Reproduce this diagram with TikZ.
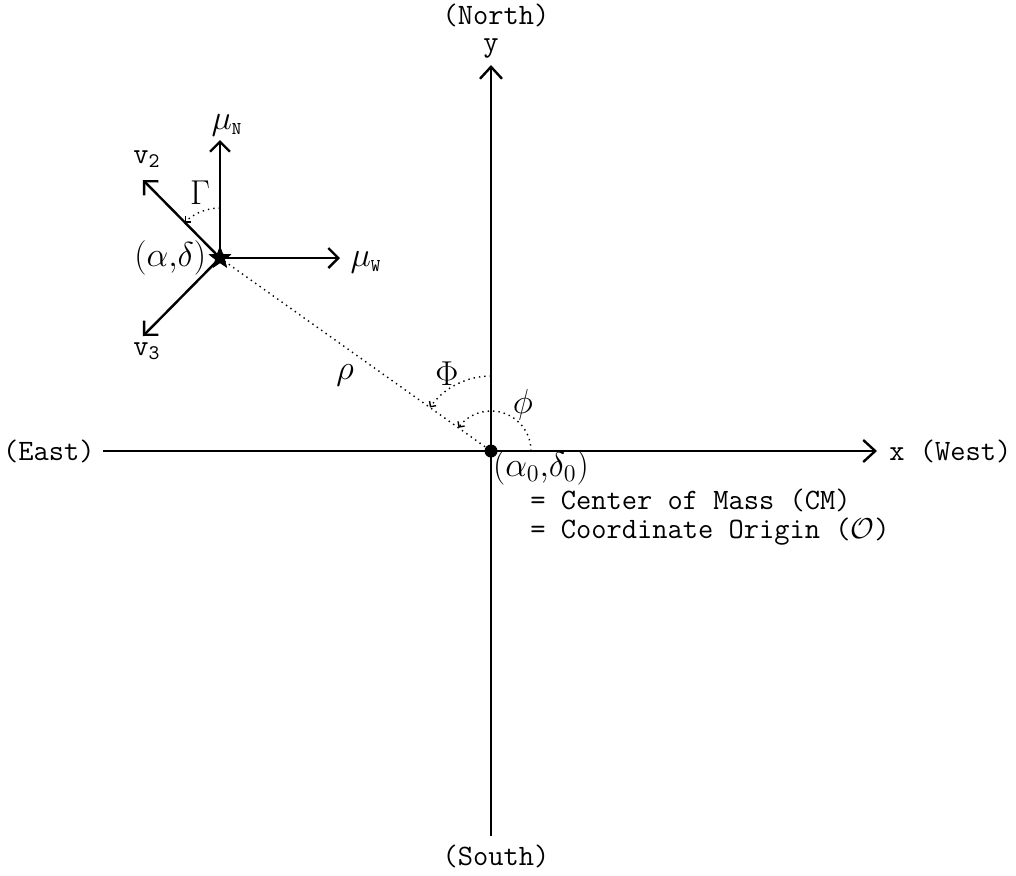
\documentclass[tikz,border=0pt]{standalone}
\usepackage{tikz}
\usetikzlibrary{arrows.meta,positioning,shapes.geometric}
\usepackage{amsmath,amssymb}
\tikzset{
  lbl/.style={font=\ttfamily\fontsize{14.8}{17}\selectfont, inner sep=1pt},
  mlbl/.style={font=\fontsize{17}{20}\selectfont, inner sep=1pt},
  arr/.style={-{Straight Barb[length=5pt,width=10pt]}, line width=1.2pt},
  axis/.style={-{Straight Barb[length=6pt,width=11pt]}, line width=1.2pt},
  angarr/.style={-{Straight Barb[length=2pt,width=4pt]}, dotted, line width=0.7pt},
  starmark/.style={star, star points=5, star point ratio=2.4, fill, inner sep=0pt, minimum size=12pt},
}

\begin{document}
\begin{tikzpicture}[x=0.5pt, y=0.5pt]
\useasboundingbox (-491,-424) rectangle (525,451);

% axes
\coordinate (O) at (0,0);
\coordinate (xl) at (-388,0);
\coordinate (xr) at (386,0);
\coordinate (yb) at (0,-385);
\coordinate (yt) at (0,386);
\draw[axis] (xl) -- (xr);
\draw[axis] (yb) -- (yt);

\node[lbl, right=5pt of xr] (xlab) {x (West)};
\node[lbl, left=3pt of xl] (east) {(East)};
\node[lbl] (ylab) at (0,403) {y};
\node[lbl] (north) at (5,436) {(North)};
\node[lbl] (south) at (5,-405) {(South)};

% star and its vectors
\node[starmark] (S) at (-271,193) {};
\coordinate (muN) at (-271,311);
\coordinate (muW) at (-151,193);
\coordinate (v2) at (-348,271);
\coordinate (v3) at (-348,115);
\draw[arr] (S.center) -- (muN);
\draw[arr] (S.center) -- (muW);
\draw[arr] (S.center) -- (v2);
\draw[arr] (S.center) -- (v3);
\draw[dotted, line width=0.7pt] (S.center) -- (O);
\node[starmark] at (S) {};

\node[mlbl] (muNlab) at (-264,326) {$\mu_{\text{\ttfamily\small N}}$};
\node[mlbl] (muWlab) at (-125,189) {$\mu_{\text{\ttfamily\small W}}$};
\node[lbl] (v2lab) at (-344,292) {v$_{\texttt{2}}$};
\node[lbl] (v3lab) at (-344,100) {v$_{\texttt{3}}$};
\node[mlbl, left=2pt of S] (adlab) {$(\alpha,\!\delta)$};
\node[mlbl] (Gam) at (-291,258) {$\Gamma$};

% angles
\draw[angarr] ([shift={(90:50)}]S.center) arc[start angle=90, end angle=135, radius=50];
\draw[angarr] ([shift={(90:75)}]O) arc[start angle=90, end angle=144.5, radius=75];
\draw[angarr] ([shift={(0:40)}]O) arc[start angle=0, end angle=144.5, radius=40];
\node[mlbl] (rho) at (-146,76) {$\rho$};
\node[mlbl] (Phi) at (-44,77) {$\Phi$};
\node[mlbl] (phi) at (32,46) {$\phi$};

% origin
\fill (O) circle[radius=6.5];
\node[mlbl] (a0d0) at (50,-17) {$(\alpha_0,\!\delta_0)$};
\node[lbl, anchor=west] (cm) at (37,-49) {= Center of Mass (CM)};
\node[lbl, anchor=west] (co) at (37,-81) {= Coordinate Origin ($\mathcal{O}$)};

\end{tikzpicture}
\end{document}
